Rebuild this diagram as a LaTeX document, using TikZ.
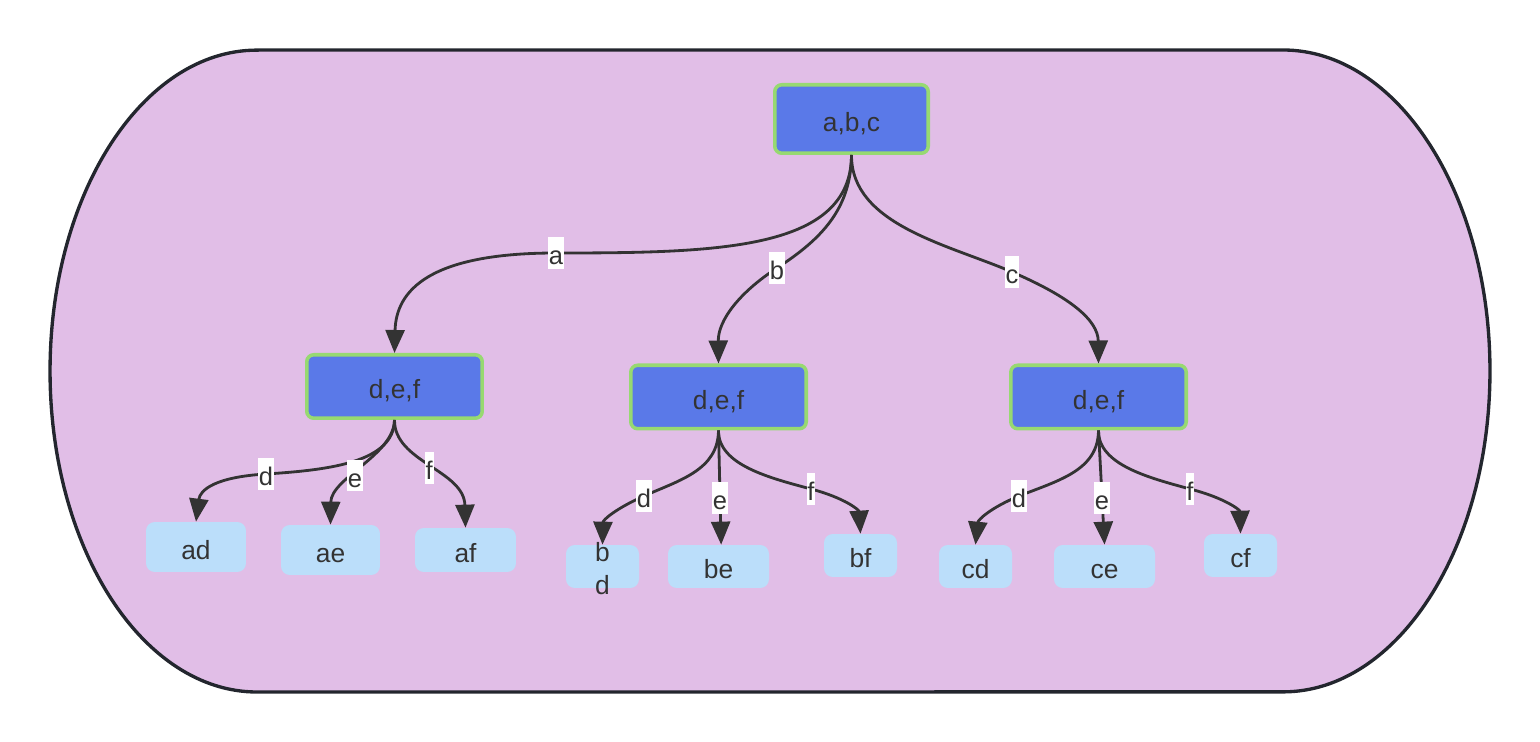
\documentclass[tikz,border=0pt]{standalone}
\usepackage{fontspec}
\setmainfont{Liberation Sans}
\usetikzlibrary{arrows.meta}
\definecolor{bgfill}{HTML}{E1BEE7}
\definecolor{bgline}{HTML}{23262E}
\definecolor{nodeblue}{HTML}{5A79E8}
\definecolor{nodegreen}{HTML}{97D971}
\definecolor{leafblue}{HTML}{BBDEFA}
\definecolor{textgray}{HTML}{333333}

\begin{document}
\begin{tikzpicture}[x=0.02cm, y=-0.02cm,
    inner/.style={draw=nodegreen, line width=2pt, fill=nodeblue, rounded corners=4pt,
        text=textgray, font=\fontsize{15}{18}\selectfont, text height=14pt, text depth=0pt,
        minimum width=3.51cm, minimum height=1.27cm},
    leaf/.style={fill=leafblue, rounded corners=5pt, inner sep=0pt, text=textgray,
        font=\fontsize{15}{18.5}\selectfont, text height=14pt, text depth=0pt,
        minimum height=0.86cm},
    lbl/.style={fill=white, inner xsep=0.5pt, inner ysep=0pt, minimum height=0.63cm,
        text height=13.5pt, text depth=0pt,
        text=textgray, font=\fontsize{14.5}{16}\selectfont},
    edge/.style={draw=textgray, line width=1.6pt,
        -{Triangle[length=0.46cm, width=0.38cm]}}]

    \useasboundingbox (0,0) rectangle (1540,742);

    % ;- outer frame ;-
    \draw[fill=bgfill, draw=bgline, line width=1.9pt]
        (257,50) -- (1283,50)
        arc[start angle=90, end angle=-90, x radius=4.14cm, y radius=6.42cm]
        -- (257,692)
        arc[start angle=270, end angle=90, x radius=4.14cm, y radius=6.42cm]
        -- cycle;

    % ;- first level ;-
    \node[inner, minimum width=3.07cm, minimum height=1.37cm] (abc) at (851.5,119) {a,b,c};
    \node[inner] (d1) at (394.5,386.5) {d,e,f};
    \node[inner] (d2) at (718.5,397) {d,e,f};
    \node[inner] (d3) at (1098.5,397) {d,e,f};

    % ;- leaves ;-
    \node[leaf, minimum width=2.0cm, minimum height=1.0cm] (ad) at (196,547) {ad};
    \node[leaf, minimum width=1.98cm, minimum height=1.0cm] (ae) at (330.5,550) {ae};
    \node[leaf, minimum width=2.02cm, minimum height=0.88cm] (af) at (465.5,550) {af};
    \node[leaf, minimum width=1.46cm] (bd) at (602.5,566.5)
        {\raisebox{0.5pt}{\smash{\begin{tabular}{@{}c@{}}b\\d\end{tabular}}}};
    \node[leaf, minimum width=2.02cm] (be) at (718.5,566.5) {be};
    \node[leaf, minimum width=1.46cm] (bf) at (860.5,555.5) {bf};
    \node[leaf, minimum width=1.46cm] (cd) at (975.5,566.5) {cd};
    \node[leaf, minimum width=2.02cm] (ce) at (1104.5,566.5) {ce};
    \node[leaf, minimum width=1.46cm] (cf) at (1240.5,555.5) {cf};

    % ;- edges from the root ;-
    \draw[edge] (abc.south) .. controls (851,250) and (720,253) .. (556,253) node[lbl] {a}
        .. controls (430,253) and (396,290) .. (d1.north);
    \draw[edge] (abc.south) .. controls (851,210) and (820,240) .. (777,268) node[lbl] {b}
        .. controls (740,292) and (718,320) .. (d2.north);
    \draw[edge] (abc.south) .. controls (851,225) and (950,245) .. (1012,272) node[lbl] {c}
        .. controls (1070,297) and (1098,320) .. (d3.north);

    % ;- edges to the leaves ;-
    \draw[edge] (d1.south) .. controls (394,462) and (330,470) .. (266,474) node[lbl] {d}
        .. controls (215,477) and (200,490) .. (ad.north);
    \draw[edge] (d1.south) .. controls (394,455) and (331,478) .. (ae.north)
        node[lbl, pos=0.58] {e};
    \draw[edge] (d1.south) .. controls (394,462) and (464,470) .. (af.north)
        node[lbl, pos=0.5] {f};

    \draw[edge] (d2.south) .. controls (718,470) and (680,480) .. (644,496) node[lbl] {d}
        .. controls (615,509) and (603,520) .. (bd.north);
    \draw[edge] (d2.south) -- ([xshift=1.5]be.north) node[lbl, pos=0.59] {e};
    \draw[edge] (d2.south) .. controls (718,465) and (770,478) .. (811,489) node[lbl] {f}
        .. controls (845,498) and (859,510) .. (bf.north);

    \draw[edge] (d3.south) .. controls (1098,470) and (1060,480) .. (1019,496) node[lbl] {d}
        .. controls (990,508) and (978,520) .. (cd.north);
    \draw[edge] (d3.south) -- (ce.north) node[lbl, pos=0.59] {e};
    \draw[edge] (d3.south) .. controls (1098,465) and (1150,478) .. (1190,489) node[lbl] {f}
        .. controls (1225,498) and (1240,510) .. (cf.north);

\end{tikzpicture}
\end{document}
